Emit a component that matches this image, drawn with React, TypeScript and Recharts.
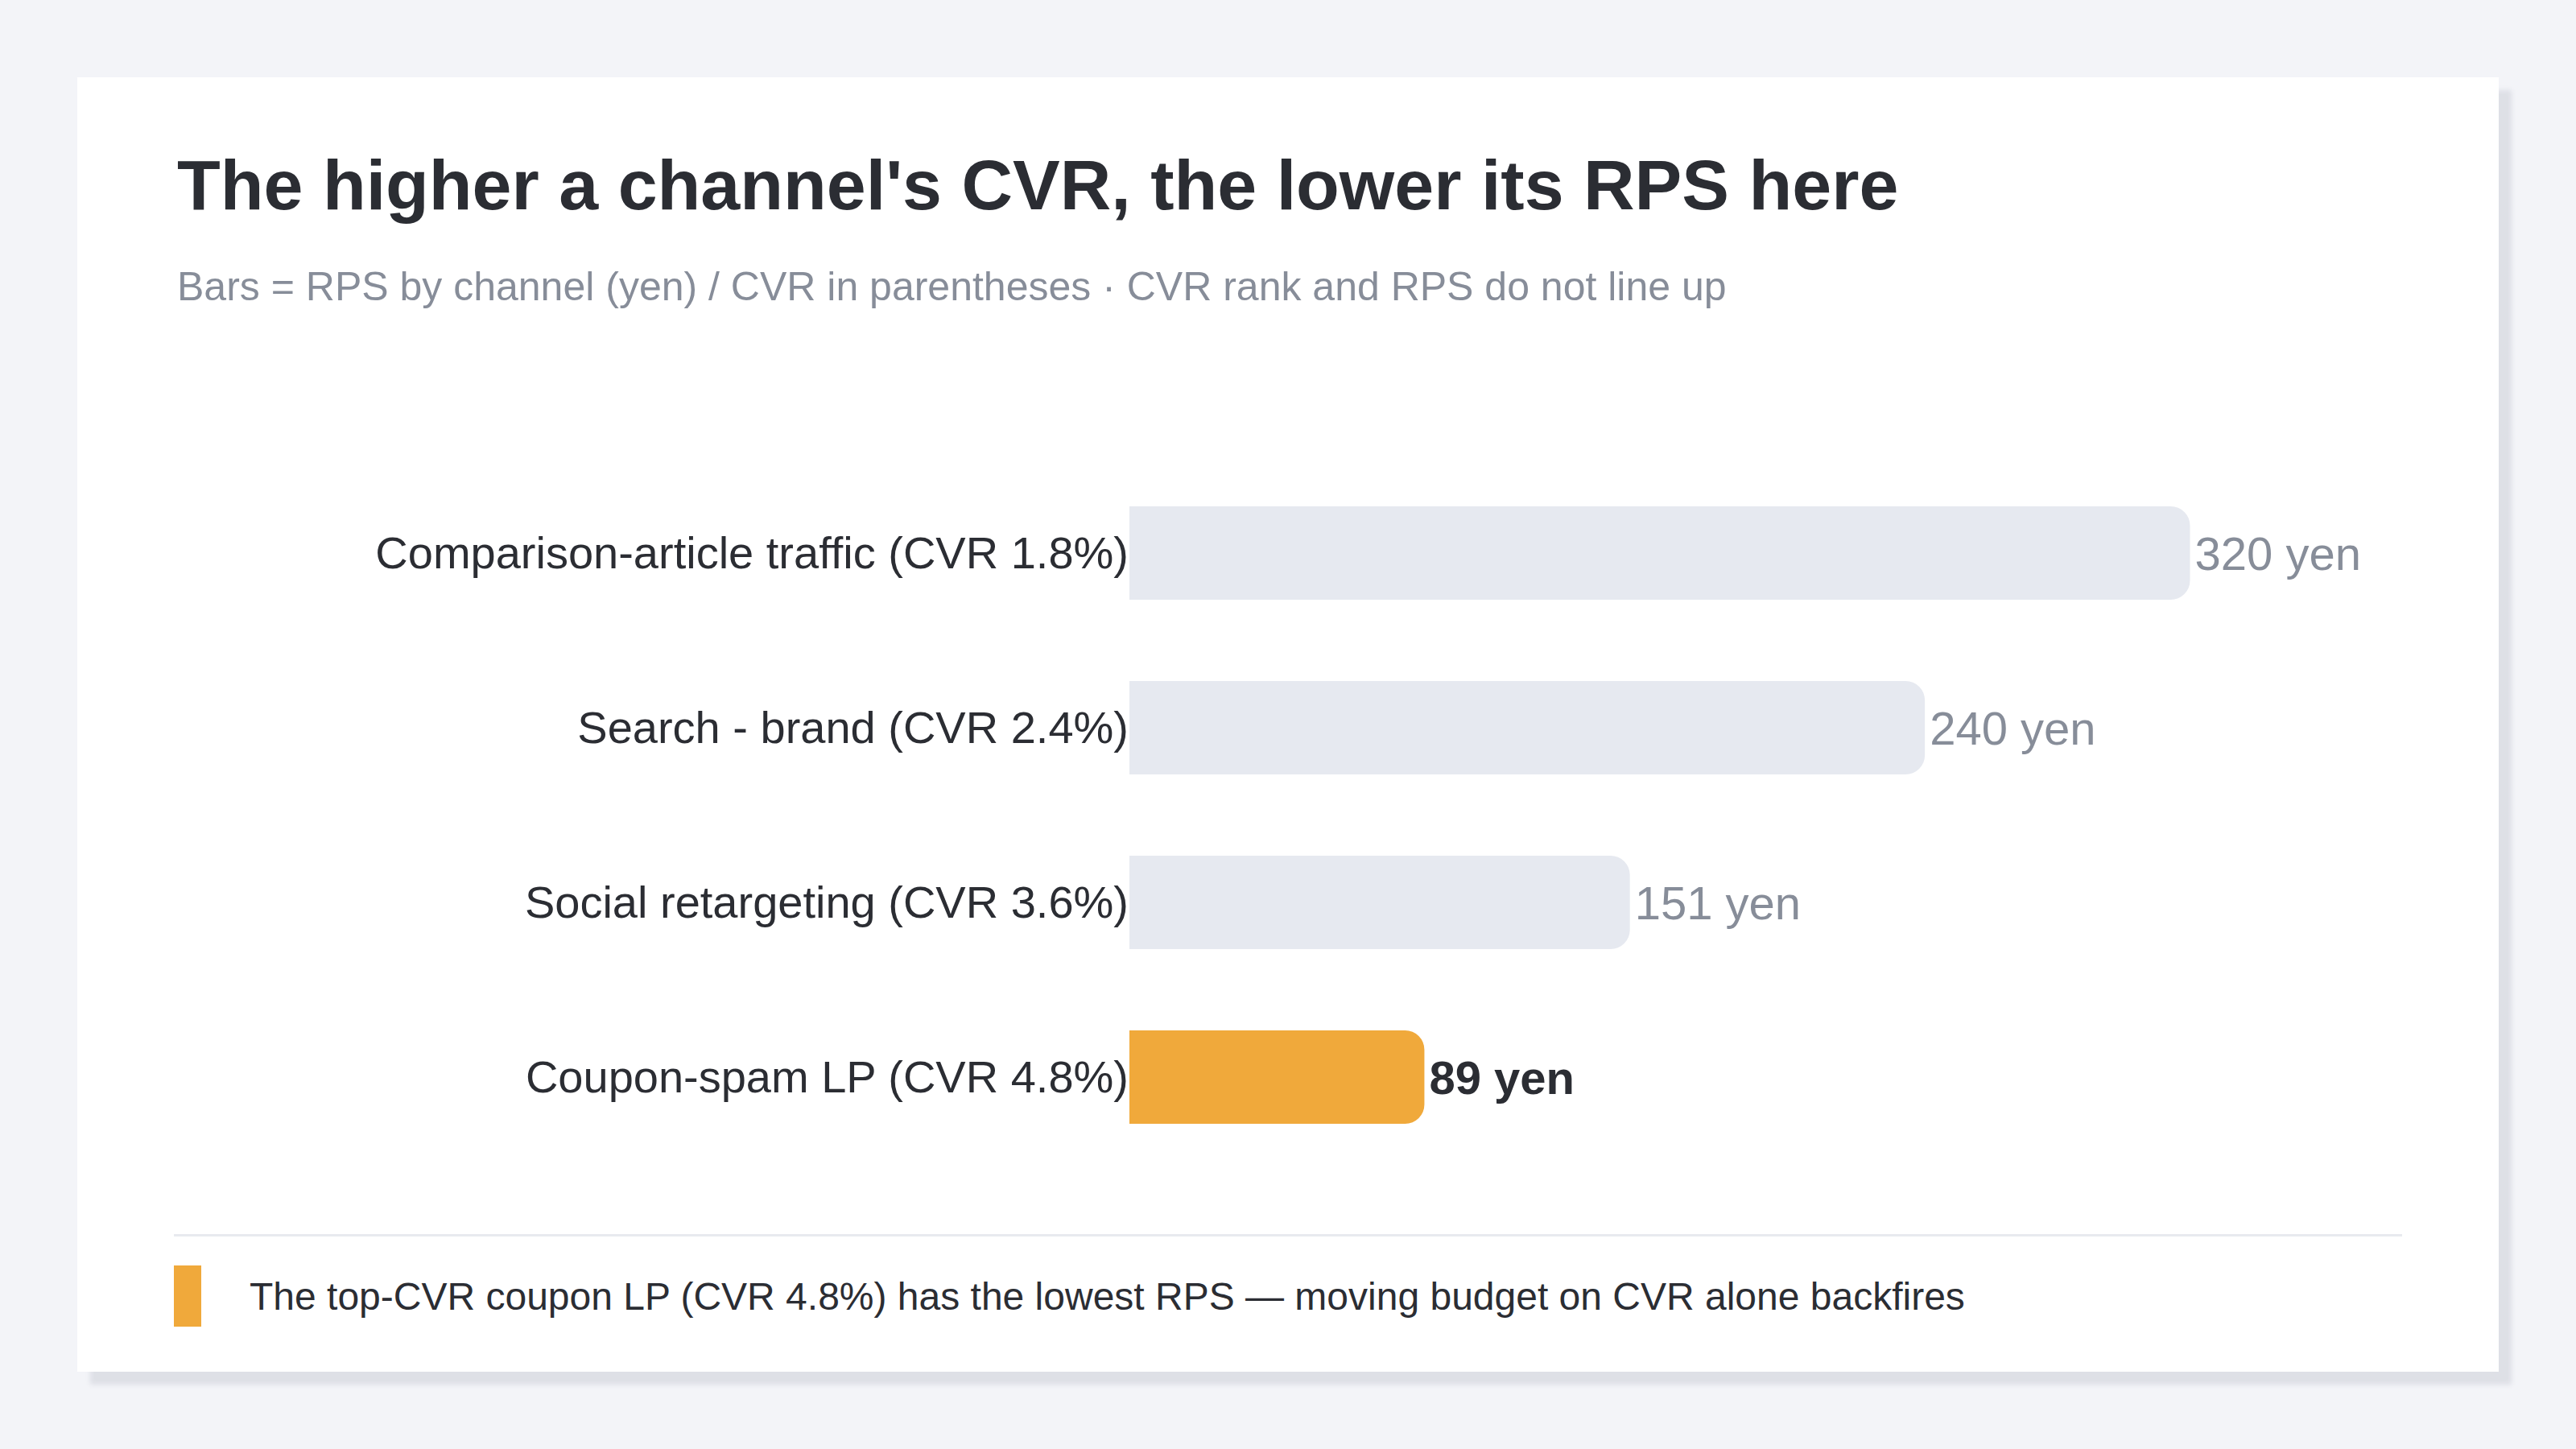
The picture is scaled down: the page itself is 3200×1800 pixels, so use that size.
import { BarChart, Bar, XAxis, YAxis, Cell, LabelList } from 'recharts';

const channels = ['Comparison-article traffic', 'Search - brand', 'Social retargeting', 'Coupon-spam LP'];
const cvrPct = [1.8, 2.4, 3.6, 4.8];
const rpsYen = [320, 240, 151, 89];
const highlightChannel = 'Coupon-spam LP';

const data = channels.map((c, i) => ({
    name: `${c} (CVR ${cvrPct[i]}%)`,
    rps: rpsYen[i],
    hot: c === highlightChannel,
}));

const FONT = '"Liberation Sans", Arial, Helvetica, sans-serif';
const DARK = '#2b2d33';
const MUTED = '#878d99';
const ORANGE = '#f0a93b';
const BAR_GRAY = '#e6e9f0';

function ValueLabel(props: any) {
    const { x, y, width, height, value, index } = props;
    const hot = data[index]?.hot;
    return (
        <text
            x={x + width + 6}
            y={y + height / 2}
            dy="0.355em"
            fontSize={58}
            fontWeight={hot ? 700 : 400}
            fill={hot ? DARK : MUTED}
        >
            {value} yen
        </text>
    );
}

export default function App() {
    return (
        <div style={{ position: 'absolute', left: 0, top: 0, width: 3200, height: 1800, background: '#f3f4f8', fontFamily: FONT, overflow: 'hidden' }}>
            <div style={{ position: 'absolute', left: 96, top: 96, width: 3008, height: 1608, background: '#fff', boxShadow: '16px 16px 6px rgba(40,50,80,0.10)' }} />

            <div style={{ position: 'absolute', left: 220, top: 186, fontSize: 88, lineHeight: '88px', fontWeight: 700, color: DARK, whiteSpace: 'nowrap' }}>
                The higher a channel's CVR, the lower its RPS here
            </div>
            <div style={{ position: 'absolute', left: 220, top: 331, fontSize: 50, lineHeight: '50px', color: MUTED, whiteSpace: 'nowrap' }}>
                Bars = RPS by channel (yen) / CVR in parentheses · CVR rank and RPS do not line up
            </div>

            <div style={{ position: 'absolute', left: 216, top: 578, width: 2768, height: 868 }}>
                <BarChart width={2768} height={868} data={data} layout="vertical" margin={{ top: 0, right: 0, left: 0, bottom: 0 }}>
                    <XAxis type="number" hide domain={[0, Math.max(...rpsYen) * 1.2]} />
                    <YAxis
                        type="category"
                        dataKey="name"
                        width={1187}
                        axisLine={false}
                        tickLine={false}
                        tickSize={0}
                        tickMargin={1}
                        tick={{ fill: DARK, fontSize: 56 }}
                    />
                    <Bar dataKey="rps" barSize={116} radius={[0, 24, 24, 0]} isAnimationActive={false}>
                        {data.map((d) => (
                            <Cell key={d.name} fill={d.hot ? ORANGE : BAR_GRAY} />
                        ))}
                        <LabelList dataKey="rps" content={ValueLabel} />
                    </Bar>
                </BarChart>
            </div>

            <div style={{ position: 'absolute', left: 216, top: 1533, width: 2768, height: 3, background: '#e8eaef' }} />
            <div style={{ position: 'absolute', left: 216, top: 1572, width: 34, height: 76, background: ORANGE }} />
            <div style={{ position: 'absolute', left: 310, top: 1587, fontSize: 48, lineHeight: '48px', color: DARK, whiteSpace: 'nowrap' }}>
                The top-CVR coupon LP (CVR 4.8%) has the lowest RPS — moving budget on CVR alone backfires
            </div>
        </div>
    );
}
